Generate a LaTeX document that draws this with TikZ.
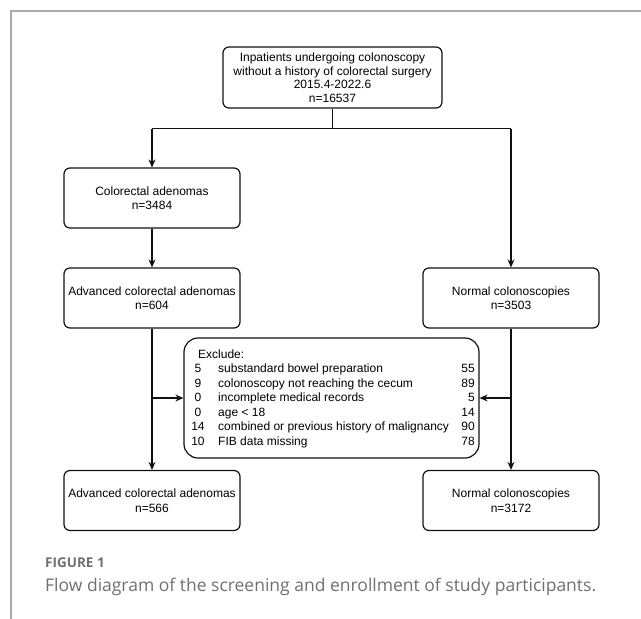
\documentclass[tikz,border=0pt]{standalone}
\usepackage{fontspec}
\setmainfont{Liberation Sans}
\newfontfamily\capfont{Open Sans}
\usepackage{xcolor}
\usetikzlibrary{arrows.meta,calc}
\definecolor{frameline}{HTML}{ABABAB}
\definecolor{capgray}{HTML}{707070}
\definecolor{ink}{HTML}{111111}
\tikzset{
  frame/.style={line width=1.5pt, draw=frameline},
  box/.style={draw=ink, line width=1.2pt, rounded corners=6pt, align=center,
    minimum width=176pt, minimum height=60pt, inner sep=0pt,
    font=\fontsize{12}{14.5}\selectfont},
  exbox/.style={draw=ink, line width=1.2pt, rounded corners=14pt,
    minimum width=295pt, minimum height=120pt, inner sep=0pt},
  link/.style={draw=ink, line width=1.2pt},
  arr/.style={link, -{Stealth[length=8pt, width=7pt]}},
  row/.style={font=\fontsize{12}{14}\selectfont, inner sep=0pt},
  capt/.style={text=capgray, inner sep=0pt, anchor=west}
}

\begin{document}
\begin{tikzpicture}[x=1pt, y=-1pt]
  \useasboundingbox (0,0) rectangle (641,619);
  \draw[frame] (641,11) -- (11,11) -- (11,619);

  % boxes
  \node[box, minimum width=219pt, minimum height=61pt,
        font=\fontsize{12}{13.5}\selectfont] (inpat) at (332.5,77.5)
    {Inpatients undergoing colonoscopy\\without a history of colorectal surgery\\2015.4-2022.6\\n=16537};
  \node[box] (adeno) at (152,198) {Colorectal adenomas\\n=3484};
  \node[box] (advA) at (152,298) {Advanced colorectal adenomas\\n=604};
  \node[box] (normA) at (511,298) {Normal colonoscopies\\n=3503};
  \node[box] (advB) at (152,500.5) {Advanced colorectal adenomas\\n=566};
  \node[box] (normB) at (511,500.5) {Normal colonoscopies\\n=3172};
  \node[exbox] (excl) at (331.5,398) {};

  % exclusion list
  \node[row, anchor=base west] (exhead) at (198,358) {Exclude:};
  \foreach \i/\a/\t/\b in {1/5/substandard bowel preparation/55,
                          2/9/colonoscopy not reaching the cecum/89,
                          3/0/incomplete medical records/5,
                          4/0/age < 18/14,
                          5/14/combined or previous history of malignancy/90,
                          6/10/FIB data missing/78}{
    \pgfmathsetmacro{\yy}{358+14.5*\i}
    \node[row, anchor=base] (ca\i) at (198,\yy) {\a};
    \node[row, anchor=base west] (ct\i) at (218,\yy) {\t};
    \node[row, anchor=base east] (cb\i) at (475,\yy) {\b};
  }

  % connectors
  \coordinate (split) at ($(inpat.south)+(0,20)$);
  \coordinate (splitL) at (split -| adeno.north);
  \coordinate (splitR) at (split -| normA.north);
  \coordinate (branchL) at (advA.south |- excl.west);
  \coordinate (branchR) at (normA.south |- excl.east);
  \draw[link] (inpat.south) -- (split);
  \draw[link] (splitL) -- (splitR);
  \draw[arr] (splitL) -- (adeno.north);
  \draw[arr] (splitR) -- (normA.north);
  \draw[arr] (adeno.south) -- (advA.north);
  \draw[arr] (advA.south) -- (advB.north);
  \draw[arr] (normA.south) -- (normB.north);
  \draw[arr] (branchL) -- (excl.west);
  \draw[arr] (branchR) -- (excl.east);

  % caption
  \node[capt, font=\capfont\bfseries\fontsize{13.5}{15}\selectfont] (fig) at (45,563) {FIGURE 1};
  \node[capt, font=\capfont\fontsize{17.5}{20}\selectfont] (caption) at (45,587)
    {Flow diagram of the screening and enrollment of study participants.};
\end{tikzpicture}
\end{document}
